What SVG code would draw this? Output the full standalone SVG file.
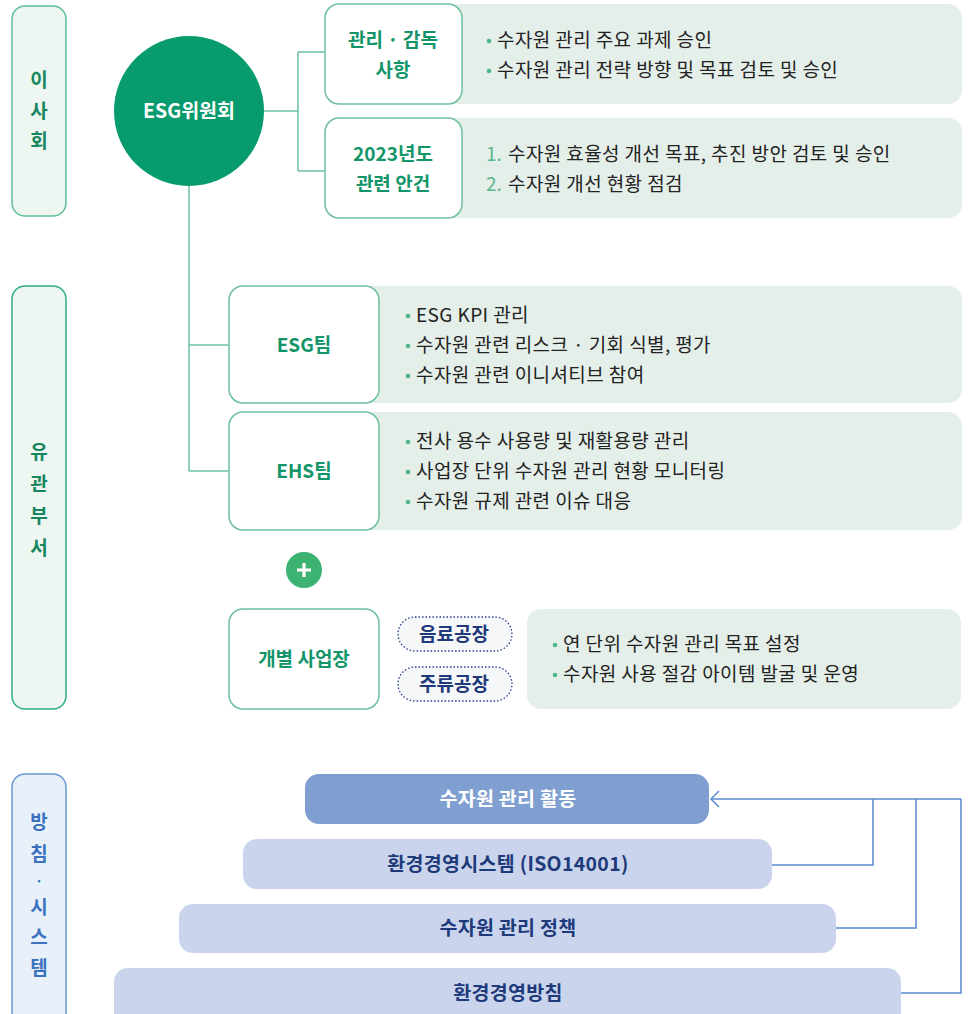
<svg xmlns="http://www.w3.org/2000/svg" width="976" height="1014" viewBox="0 0 976 1014">
<defs>
<style>
text{font-family:"Noto Sans CJK KR","Noto Sans",sans-serif;}
.side{fill:#eef6f1;stroke:#5fbf98;stroke-width:1.5;}
.side2{fill:#e8f0fa;stroke:#6a98d6;stroke-width:1.5;}
.sidet{font-size:19px;font-weight:700;fill:#16865f;text-anchor:middle;}
.sidet2{font-size:19px;font-weight:700;fill:#3a72c0;text-anchor:middle;}
.panel{fill:#e5efe9;}
.box{fill:#ffffff;stroke:#6cc19c;stroke-width:1.5;}
.boxt{font-size:19px;font-weight:700;fill:#13956a;text-anchor:middle;}
.bt{font-size:19px;fill:#222222;letter-spacing:0.4px;}
.num{font-size:19px;fill:#5ab88f;}
.dot{fill:#4db489;}
.conn{fill:none;stroke:#6cc2a0;stroke-width:1.5;}
.pill{fill:#f6f7f9;stroke:#2b3f8f;stroke-width:1.3;stroke-dasharray:1.5 2;}
.pillt{font-size:19px;font-weight:700;fill:#1e3a7a;text-anchor:middle;}
.bar{fill:#cad5ed;}
.bart{font-size:19.5px;font-weight:700;fill:#1e3a7a;text-anchor:middle;letter-spacing:0.3px;}
.bconn{fill:none;stroke:#5b8ad0;stroke-width:1.5;}
</style>
</defs>

<g id="side-board">
<rect class="side" x="12" y="6" width="54" height="210" rx="13"/>
<text class="sidet" x="39" y="87">이</text>
<text class="sidet" x="39" y="118">사</text>
<text class="sidet" x="39" y="148">회</text>
</g>
<g id="side-dept">
<rect class="side" x="12" y="286" width="54" height="423" rx="13" style="stroke:#2fae82"/>
<text class="sidet" x="39" y="459">유</text>
<text class="sidet" x="39" y="491">관</text>
<text class="sidet" x="39" y="523">부</text>
<text class="sidet" x="39" y="555">서</text>
</g>
<g id="side-policy">
<rect class="side2" x="12" y="774" width="54" height="260" rx="13"/>
<text class="sidet2" x="39" y="829">방</text>
<text class="sidet2" x="39" y="861">침</text>
<text class="sidet2" x="39" y="886" style="font-size:13px">·</text>
<text class="sidet2" x="39" y="914">시</text>
<text class="sidet2" x="39" y="944">스</text>
<text class="sidet2" x="39" y="975">템</text>
</g>

<g id="connectors">
<path class="conn" d="M264,111 H298 M298,52 V171 M298,52 H325 M298,171 H325"/>
<path class="conn" d="M189,186 V471 M189,345 H229 M189,471 H229"/>
<path class="bconn" d="M961,799 H711"/>
<path class="bconn" d="M719,791 L711,799 L719,807"/>
<path class="bconn" d="M772,865 H873 V799 M836,928 H916 V799 M901,993 H961 V799"/>
</g>

<g id="esg-committee">
<circle cx="189" cy="111" r="75" fill="#079b6d"/>
<text x="189" y="118" font-size="19.5" font-weight="700" fill="#ffffff" text-anchor="middle">ESG위원회</text>
</g>

<g id="oversight">
<rect class="panel" x="330" y="4" width="632" height="100" rx="14"/>
<rect class="box" x="325" y="4" width="137" height="100" rx="14"/>
<text class="boxt" x="393" y="47">관리 · 감독</text>
<text class="boxt" x="393" y="77">사항</text>
<circle class="dot" cx="489" cy="41" r="2.3"/>
<text class="bt" x="497" y="47">수자원 관리 주요 과제 승인</text>
<circle class="dot" cx="489" cy="71" r="2.3"/>
<text class="bt" x="497" y="77">수자원 관리 전략 방향 및 목표 검토 및 승인</text>
</g>

<g id="agenda-2023">
<rect class="panel" x="330" y="118" width="632" height="100" rx="14"/>
<rect class="box" x="325" y="118" width="137" height="100" rx="14"/>
<text class="boxt" x="393" y="161">2023년도</text>
<text class="boxt" x="393" y="191">관련 안건</text>
<text class="num" x="486" y="161">1.</text>
<text class="bt" x="508" y="161">수자원 효율성 개선 목표, 추진 방안 검토 및 승인</text>
<text class="num" x="486" y="191">2.</text>
<text class="bt" x="508" y="191">수자원 개선 현황 점검</text>
</g>

<g id="esg-team">
<rect class="panel" x="235" y="286" width="727" height="117" rx="14"/>
<rect class="box" x="229" y="286" width="150" height="117" rx="14"/>
<text class="boxt" x="304" y="352">ESG팀</text>
<circle class="dot" cx="408" cy="316" r="2.3"/>
<text class="bt" x="416" y="322">ESG KPI 관리</text>
<circle class="dot" cx="408" cy="346" r="2.3"/>
<text class="bt" x="416" y="352">수자원 관련 리스크 · 기회 식별, 평가</text>
<circle class="dot" cx="408" cy="376" r="2.3"/>
<text class="bt" x="416" y="382">수자원 관련 이니셔티브 참여</text>
</g>

<g id="ehs-team">
<rect class="panel" x="235" y="412" width="727" height="118" rx="14"/>
<rect class="box" x="229" y="412" width="150" height="118" rx="14"/>
<text class="boxt" x="304" y="478">EHS팀</text>
<circle class="dot" cx="408" cy="442" r="2.3"/>
<text class="bt" x="416" y="448">전사 용수 사용량 및 재활용량 관리</text>
<circle class="dot" cx="408" cy="472" r="2.3"/>
<text class="bt" x="416" y="478">사업장 단위 수자원 관리 현황 모니터링</text>
<circle class="dot" cx="408" cy="502" r="2.3"/>
<text class="bt" x="416" y="508">수자원 규제 관련 이슈 대응</text>
</g>

<g id="plus">
<circle cx="304" cy="570" r="18" fill="#3cb371"/>
<path d="M297,570 H311 M304,563 V577" stroke="#ffffff" stroke-width="3.2"/>
</g>

<g id="sites">
<rect class="box" x="229" y="609" width="150" height="100" rx="14"/>
<text class="boxt" x="304" y="666">개별 사업장</text>
</g>
<g id="beverage">
<rect class="pill" x="398" y="617" width="114" height="34" rx="17"/>
<text class="pillt" x="454" y="641">음료공장</text>
</g>
<g id="liquor">
<rect class="pill" x="398" y="667" width="114" height="34" rx="17"/>
<text class="pillt" x="454" y="691">주류공장</text>
</g>
<g id="sites-tasks">
<rect class="panel" x="527" y="609" width="434" height="100" rx="14"/>
<circle class="dot" cx="555" cy="645" r="2.3"/>
<text class="bt" x="563" y="651">연 단위 수자원 관리 목표 설정</text>
<circle class="dot" cx="555" cy="675" r="2.3"/>
<text class="bt" x="563" y="681">수자원 사용 절감 아이템 발굴 및 운영</text>
</g>

<g id="activity">
<rect x="305" y="774" width="404" height="50" rx="14" fill="#7f9fd1"/>
<text class="bart" x="508" y="806" style="fill:#ffffff">수자원 관리 활동</text>
</g>
<g id="ems">
<rect class="bar" x="243" y="839" width="529" height="50" rx="14"/>
<text class="bart" x="508" y="871">환경경영시스템 (ISO14001)</text>
</g>
<g id="policy">
<rect class="bar" x="179" y="904" width="657" height="49" rx="14"/>
<text class="bart" x="508" y="935">수자원 관리 정책</text>
</g>
<g id="guideline">
<rect class="bar" x="114" y="968" width="787" height="60" rx="14"/>
<text class="bart" x="508" y="1000">환경경영방침</text>
</g>
</svg>
